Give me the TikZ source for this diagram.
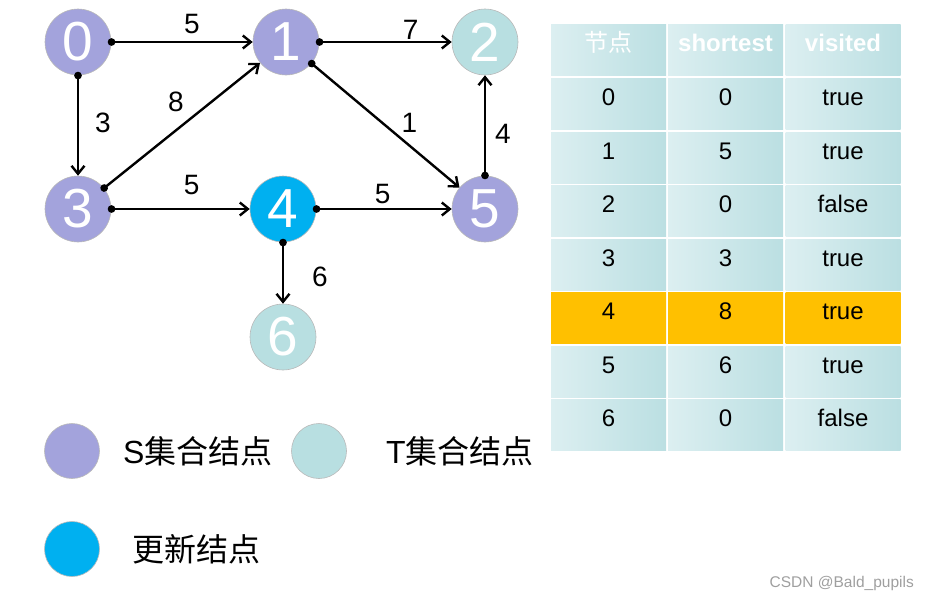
\documentclass[tikz,border=0pt]{standalone}
\usepackage{fontspec}
\setmainfont{Liberation Sans}
\newfontfamily\cjk{Noto Sans CJK SC}
\usetikzlibrary{positioning,arrows.meta}
\definecolor{spurple}{HTML}{A3A3DC}
\definecolor{tteal}{HTML}{B8DFE1}
\definecolor{newblue}{HTML}{00B0F0}
\definecolor{cellL}{HTML}{DCEFF1}
\definecolor{cellR}{HTML}{BBDFE2}
\definecolor{hilite}{HTML}{FFC000}

\begin{document}
\begin{tikzpicture}[x=1pt,y=-1pt]
    \useasboundingbox (0,0) rectangle (931,603);
    \tikzstyle{vert}=[circle, minimum size=66pt, inner sep=0pt, draw=gray!55, line width=0.6pt,
                      text=white, font=\fontsize{55}{55}\selectfont]
    \tikzstyle{S}=[vert, fill=spurple]
    \tikzstyle{T}=[vert, fill=tteal]
    \tikzstyle{U}=[vert, fill=newblue]
    \tikzstyle{wt}=[inner sep=0pt, font=\fontsize{28}{28}\selectfont]
    % graph
    \node[S] (n0) at (78,42)  {0};
    \node[S] (n1) at (286,42) {1};
    \node[T] (n2) at (485,42) {2};
    \node[S] (n3) at (78,209) {3};
    \node[U] (n4) at (283,209) {4};
    \node[S] (n5) at (485,209) {5};
    \node[T] (n6) at (283,337) {6};
    \path[{Circle[length=7.5pt]}-{Straight Barb[length=8pt,width=13pt]}, line width=2.4pt, shorten <=-3.5pt]
        (n0) edge node[wt, pos=.57, above=7pt] (w01) {5} (n1)
        (n1) edge node[wt, pos=.69, above=1pt] (w12) {7} (n2)
        (n0) edge node[wt, pos=.47, right=16pt] (w03) {3} (n3)
        (n3) edge node[wt, pos=.55, above left=6pt and 5pt] (w31) {8} (n1)
        (n1) edge node[wt, pos=.58, above right=2pt and 3pt] (w15) {1} (n5)
        (n5) edge node[wt, pos=.42, right=9pt] (w52) {4} (n2)
        (n3) edge node[wt, pos=.58, above=13pt] (w34) {5} (n4)
        (n4) edge node[wt, pos=.49, above=4pt] (w45) {5} (n5)
        (n4) edge node[wt, pos=.57, right=28pt] (w46) {6} (n6);
    % table
    \tikzstyle{cell}=[minimum width=115pt, minimum height=51pt, inner sep=0pt, text height=17pt, text depth=14pt,
                      left color=cellL, right color=cellR, font=\fontsize{24}{24}\selectfont]
    \tikzstyle{hot}=[cell, left color=hilite, right color=hilite]
    \tikzstyle{head}=[cell, text=white, font=\bfseries\fontsize{24}{24}\selectfont]
    \node[head] (hid)  at (608.5,50) {\cjk\mdseries 节点};
    \node[head] (hsp)  at (725.5,50) {shortest};
    \node[head] (hvis) at (843,50)   {visited};
    \foreach \r/\st/\d/\v in {0/cell/0/true, 1/cell/5/true, 2/cell/0/false, 3/cell/3/true,
                              4/hot/8/true, 5/cell/6/true, 6/cell/0/false} {
        \node[\st] (id\r)  at (608.5,{104+53.5*\r}) {\r};
        \node[\st] (sp\r)  at (725.5,{104+53.5*\r}) {\d};
        \node[\st] (vis\r) at (843,{104+53.5*\r})   {\v};
    }
    % legend
    \tikzstyle{key}=[circle, minimum size=55pt, inner sep=0pt, draw=gray!55, line width=0.6pt]
    \tikzstyle{keytext}=[inner sep=0pt, font=\fontsize{32}{32}\selectfont]
    \node[key, fill=spurple] (keyS) at (72,451) {};
    \node[keytext, right=23pt of keyS] (labS) {S\cjk 集合结点};
    \node[key, fill=tteal] (keyT) at (319,451) {};
    \node[keytext, right=39pt of keyT] (labT) {T\cjk 集合结点};
    \node[key, fill=newblue] (keyU) at (72,549) {};
    \node[keytext, right=32pt of keyU] (labU) {\cjk 更新结点};
    \node[anchor=east, inner sep=0pt, text=gray!75, font=\fontsize{15.5}{15.5}\selectfont] (mark) at (914,583) {CSDN @Bald\_pupils};
\end{tikzpicture}
\end{document}
